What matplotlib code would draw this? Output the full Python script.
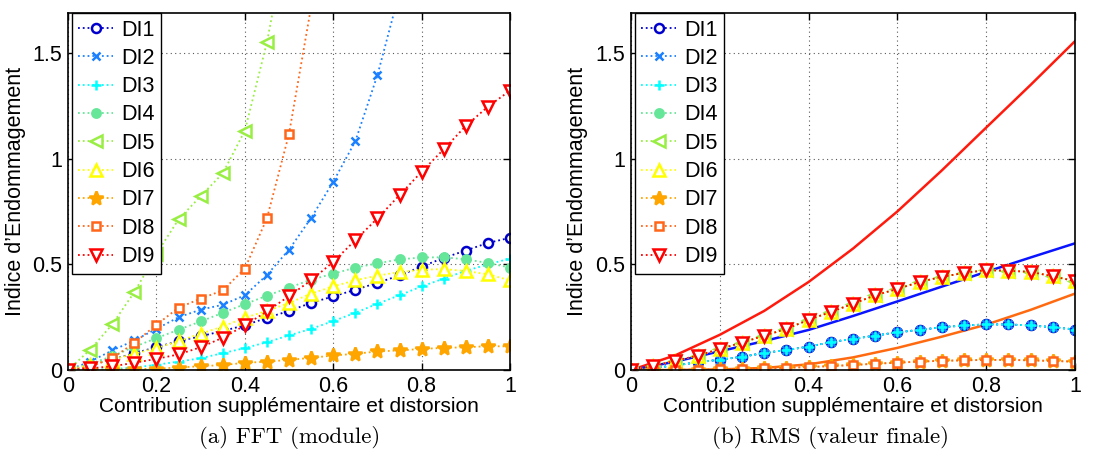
import numpy as np
import matplotlib
matplotlib.use('Agg')
import matplotlib.pyplot as plt

plt.rcParams['font.family'] = ['Liberation Sans', 'DejaVu Sans']

# abscisse commune (contribution)
contrib = np.linspace(0, 1, 21)
contrib_curve = np.linspace(0, 1, 11)

noms = ['DI1', 'DI2', 'DI3', 'DI4', 'DI5', 'DI6', 'DI7', 'DI8', 'DI9']

# (a) FFT (module)
fft_di1 = [0, 0.025, 0.05, 0.08, 0.108, 0.137, 0.16, 0.185, 0.212, 0.247, 0.28,
           0.318, 0.349, 0.38, 0.413, 0.448, 0.49, 0.531, 0.566, 0.602, 0.626]
fft_di2 = [0, 0.04, 0.093, 0.14, 0.195, 0.25, 0.286, 0.309, 0.354, 0.45, 0.57,
           0.72, 0.891, 1.083, 1.396, 1.79, 2.2, 2.7, 3.2, 3.8, 4.4]
fft_di3 = [0, 0.002, 0.005, 0.012, 0.025, 0.04, 0.056, 0.08, 0.104, 0.132, 0.164,
           0.195, 0.232, 0.271, 0.314, 0.354, 0.396, 0.433, 0.47, 0.50, 0.528]
fft_di4 = [0, 0.03, 0.065, 0.11, 0.151, 0.191, 0.23, 0.271, 0.312, 0.352, 0.39,
           0.428, 0.456, 0.485, 0.505, 0.524, 0.533, 0.534, 0.524, 0.507, 0.485]
fft_di5 = [0, 0.096, 0.216, 0.369, 0.55, 0.713, 0.823, 0.931, 1.133, 1.551, 2.1,
           2.7, 3.3, 4.0, 4.7, 5.4, 6.1, 6.9, 7.7, 8.5, 9.3]
fft_di6 = [0, 0.025, 0.05, 0.077, 0.104, 0.137, 0.172, 0.206, 0.248, 0.28, 0.317,
           0.362, 0.396, 0.425, 0.447, 0.464, 0.475, 0.478, 0.469, 0.453, 0.425]
fft_di7 = [0, 0.001, 0.002, 0.004, 0.007, 0.012, 0.018, 0.024, 0.034, 0.04, 0.048,
           0.058, 0.069, 0.077, 0.088, 0.093, 0.1, 0.105, 0.108, 0.113, 0.112]
fft_di8 = [0, 0.015, 0.056, 0.129, 0.214, 0.295, 0.338, 0.377, 0.48, 0.718, 1.118,
           1.72, 2.5, 3.4, 4.4, 5.5, 6.7, 8.0, 9.4, 10.9, 12.5]
fft_di9 = [0, 0.008, 0.018, 0.034, 0.053, 0.074, 0.108, 0.153, 0.211, 0.278, 0.35,
           0.425, 0.512, 0.615, 0.718, 0.828, 0.939, 1.045, 1.156, 1.247, 1.323]

# (b) RMS (valeur finale) -- plusieurs indices confondus
rms_di123 = [0, 0.01, 0.022, 0.037, 0.049, 0.063, 0.081, 0.095, 0.111, 0.132, 0.148,
             0.163, 0.179, 0.19, 0.203, 0.211, 0.216, 0.216, 0.211, 0.203, 0.192]
rms_di4569 = [0, 0.02, 0.044, 0.068, 0.1, 0.13, 0.163, 0.195, 0.238, 0.275, 0.314,
              0.354, 0.384, 0.417, 0.441, 0.46, 0.473, 0.47, 0.465, 0.444, 0.421]
rms_di78 = [0, 0.0, 0.001, 0.002, 0.004, 0.006, 0.008, 0.011, 0.014, 0.019, 0.024,
            0.03, 0.035, 0.04, 0.044, 0.046, 0.048, 0.048, 0.046, 0.043, 0.04]

# courbes continues (panneau b)
courbe_rouge = [0, 0.07, 0.167, 0.28, 0.417, 0.575, 0.751, 0.945, 1.148, 1.35, 1.557]
courbe_bleue = [0, 0.04, 0.089, 0.137, 0.19, 0.256, 0.325, 0.395, 0.465, 0.533, 0.6]
courbe_orange = [0, 0.0, 0.003, 0.01, 0.027, 0.06, 0.105, 0.158, 0.215, 0.285, 0.362]

fft_series = [fft_di1, fft_di2, fft_di3, fft_di4, fft_di5, fft_di6, fft_di7, fft_di8, fft_di9]
rms_series = [rms_di123, rms_di123, rms_di123, rms_di4569, rms_di4569, rms_di4569,
              rms_di78, rms_di78, rms_di4569]

# style des marqueurs
couleurs = ['#0000CC', '#1A80FF', '#00FFFF', '#66E699', '#99EE44',
            '#FFFF00', '#FFA500', '#FF6619', '#FF0000']
marqueurs = ['o', 'x', '+', 'o', '<', '^', '*', 's', 'v']
tailles = [6.5, 5.5, 7, 6, 8, 8, 10.5, 5.5, 8]
remplis = [False, True, True, True, False, False, True, False, False]


def trace_panneau(ax, series):
    for i, y in enumerate(series):
        ax.plot(contrib, y, linestyle=':', linewidth=1.3, color=couleurs[i],
                marker=marqueurs[i], markersize=tailles[i], markeredgewidth=1.8,
                markerfacecolor=couleurs[i] if remplis[i] else 'white',
                markeredgecolor=couleurs[i], label=noms[i])


def habille(ax):
    ax.set_xlim(0, 1)
    ax.set_ylim(0, 1.69)
    ax.set_xticks([0, 0.2, 0.4, 0.6, 0.8, 1])
    ax.set_xticklabels(['0', '0.2', '0.4', '0.6', '0.8', '1'])
    ax.set_yticks([0, 0.5, 1, 1.5])
    ax.set_yticklabels(['0', '0.5', '1', '1.5'])
    ax.tick_params(direction='in', top=True, right=True, length=5, width=1,
                   labelsize=15.5, pad=4)
    ax.grid(True, linestyle=(0, (1, 3)), color='0.35', linewidth=0.8)
    for sp in ax.spines.values():
        sp.set_linewidth(1.2)
    ax.set_xlabel('Contribution supplémentaire et distorsion', fontsize=15, labelpad=0)
    ax.set_ylabel('Indice d’Endommagement', fontsize=15.5, labelpad=5)
    leg = ax.legend(loc='upper left', bbox_to_anchor=(0.009, 1.0), borderaxespad=0,
                    fontsize=15.5, labelspacing=0.34, handlelength=1.6,
                    handletextpad=0.4, borderpad=0.3, fancybox=False,
                    framealpha=1, edgecolor='black')
    leg.get_frame().set_linewidth(1.0)


fig = plt.figure(figsize=(11.17, 4.62), dpi=100)
ax1 = fig.add_axes([0.0609, 0.199, 0.3957, 0.7727])
ax2 = fig.add_axes([0.5649, 0.199, 0.3975, 0.7727])

trace_panneau(ax1, fft_series)
habille(ax1)

ax2.plot(contrib_curve, courbe_rouge, color='#FF1A0D', linewidth=1.8)
ax2.plot(contrib_curve, courbe_bleue, color='#0A14FF', linewidth=1.8)
ax2.plot(contrib_curve, courbe_orange, color='#FF6A10', linewidth=1.8)
trace_panneau(ax2, rms_series)
habille(ax2)

fig.text(290 / 1117, 0.054, '(a) FFT (module)', family='cmr10', fontsize=16.5,
         ha='center', va='center')
fig.text(831 / 1117, 0.054, '(b) RMS (valeur finale)', family='cmr10', fontsize=16.5,
         ha='center', va='center')

fig.savefig('out.png', dpi=100)
